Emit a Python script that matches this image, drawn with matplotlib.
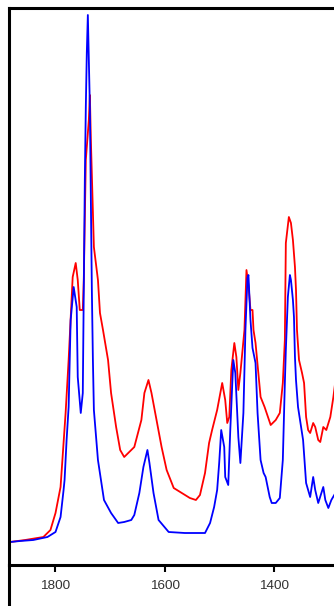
import numpy as np
import matplotlib.pyplot as plt
from matplotlib.lines import Line2D

# wavenumber (cm-1) and absorbance
wn_blue = [1881.5, 1863.1, 1839.2, 1813.4, 1798.7, 1789.5, 1784.0, 1782.2, 1778.5, 1774.8,
           1771.1, 1765.6, 1760.1, 1758.2, 1752.7, 1749.0, 1745.3, 1743.5, 1741.7, 1739.8,
           1738.0, 1736.1, 1734.3, 1732.5, 1730.6, 1728.8, 1721.4, 1710.4, 1697.5, 1684.6,
           1673.6, 1660.7, 1655.2, 1646.0, 1638.6, 1631.3, 1627.6, 1620.2, 1611.0, 1592.6,
           1563.2, 1526.4, 1517.2, 1509.8, 1504.3, 1500.6, 1496.9, 1491.4, 1489.6, 1484.1,
           1480.4, 1474.9, 1471.2, 1465.7, 1462.0, 1456.5, 1452.8, 1449.1, 1447.3, 1443.6,
           1439.9, 1434.4, 1430.7, 1425.2, 1419.7, 1416.0, 1408.6, 1404.9, 1397.6, 1390.2,
           1384.7, 1381.0, 1379.2, 1375.5, 1371.8, 1369.9, 1366.3, 1364.4, 1362.6, 1360.7,
           1357.0, 1347.8, 1342.3, 1334.9, 1329.4, 1325.7, 1320.2, 1311.0, 1307.3, 1301.8,
           1296.3, 1288.9, 1285.3]
abs_blue = [0.006, 0.008, 0.010, 0.016, 0.026, 0.056, 0.110, 0.130, 0.210, 0.276,
            0.450, 0.516, 0.476, 0.336, 0.264, 0.304, 0.730, 0.876, 0.984, 1.060,
            0.970, 0.876, 0.690, 0.510, 0.370, 0.270, 0.170, 0.090, 0.064, 0.044,
            0.046, 0.050, 0.060, 0.104, 0.156, 0.190, 0.164, 0.104, 0.050, 0.026,
            0.024, 0.024, 0.044, 0.076, 0.110, 0.164, 0.230, 0.196, 0.136, 0.120,
            0.230, 0.370, 0.344, 0.216, 0.164, 0.264, 0.430, 0.534, 0.540, 0.450,
            0.394, 0.364, 0.264, 0.170, 0.144, 0.136, 0.096, 0.084, 0.084, 0.094,
            0.170, 0.324, 0.390, 0.496, 0.540, 0.530, 0.490, 0.456, 0.376, 0.330,
            0.276, 0.210, 0.124, 0.096, 0.136, 0.110, 0.084, 0.116, 0.090, 0.074,
            0.090, 0.104, 0.084]

wn_red = [1881.5, 1853.9, 1820.8, 1807.9, 1798.7, 1789.5, 1780.3, 1774.8, 1767.4, 1761.9,
          1758.2, 1754.5, 1749.0, 1747.2, 1743.5, 1738.0, 1736.1, 1734.3, 1732.5, 1728.8,
          1721.4, 1717.7, 1712.2, 1703.0, 1697.5, 1688.3, 1680.9, 1673.6, 1655.2, 1642.3,
          1636.8, 1629.4, 1623.9, 1614.7, 1605.5, 1596.3, 1583.4, 1568.7, 1554.0, 1543.0,
          1535.6, 1526.4, 1519.0, 1513.5, 1504.3, 1495.1, 1489.6, 1485.9, 1482.2, 1478.5,
          1473.0, 1469.3, 1465.7, 1462.0, 1454.6, 1450.9, 1447.3, 1443.6, 1439.9, 1438.1,
          1434.4, 1425.2, 1417.9, 1406.8, 1397.6, 1390.2, 1384.7, 1381.0, 1379.2, 1373.7,
          1369.9, 1366.3, 1362.6, 1360.7, 1358.9, 1355.2, 1349.7, 1346.0, 1342.3, 1338.6,
          1334.9, 1329.4, 1325.7, 1320.2, 1316.5, 1311.0, 1305.5, 1298.2, 1292.6, 1287.1,
          1285.3]
abs_red = [0.006, 0.010, 0.016, 0.030, 0.064, 0.116, 0.264, 0.370, 0.536, 0.564,
           0.530, 0.470, 0.470, 0.530, 0.770, 0.850, 0.900, 0.810, 0.740, 0.596,
           0.530, 0.464, 0.430, 0.370, 0.304, 0.236, 0.190, 0.176, 0.196, 0.250,
           0.304, 0.330, 0.304, 0.250, 0.196, 0.150, 0.114, 0.104, 0.094, 0.090,
           0.100, 0.144, 0.204, 0.230, 0.270, 0.324, 0.290, 0.244, 0.256, 0.350,
           0.404, 0.376, 0.310, 0.344, 0.430, 0.550, 0.520, 0.470, 0.470, 0.430,
           0.404, 0.296, 0.276, 0.240, 0.250, 0.264, 0.324, 0.410, 0.604, 0.656,
           0.644, 0.610, 0.556, 0.510, 0.430, 0.370, 0.344, 0.324, 0.256, 0.230,
           0.224, 0.244, 0.236, 0.210, 0.206, 0.236, 0.230, 0.256, 0.296, 0.344,
           0.354]

ticks = [1800, 1600, 1400]

fig = plt.figure(figsize=(3.34, 6.06), dpi=100)
ax = fig.add_axes([9/334, 1 - 565/606, 1 - 9/334 + 0.01, (565 - 8)/606])

ax.plot(wn_red, abs_red, color="red", lw=1.3)
ax.plot(wn_blue, abs_blue, color="blue", lw=1.3)

ax.set_xlim(1883.4, 1285.4)
ax.set_ylim(-0.04, 1.074)
ax.set_xticks(ticks)
ax.set_xticklabels([str(t) for t in ticks], fontfamily="Liberation Sans", fontsize=9.7, color="#333333")
ax.tick_params(axis="x", direction="out", length=5, width=1.5, pad=6)
ax.set_yticks([])
ax.spines["right"].set_visible(False)
for s in ["left", "top", "bottom"]:
    ax.spines[s].set_linewidth(2.2)
    ax.spines[s].set_color("black")

# left axis line runs on below the x axis
fig.add_artist(Line2D([9/334, 9/334], [0, 1 - 565/606], color="black", lw=2.2))

fig.savefig("out.png", dpi=100)
